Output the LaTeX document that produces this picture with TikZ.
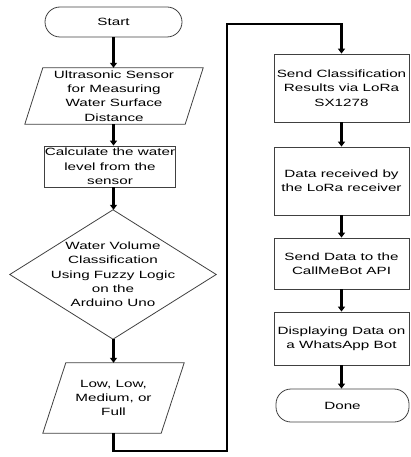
\documentclass[tikz,border=0pt]{standalone}
\usepackage{fontspec}
\setmainfont[FakeStretch=1.45]{Liberation Sans}
\usetikzlibrary{arrows.meta,calc}
\begin{document}
\begin{tikzpicture}[x=1pt,y=-1pt,
  txt/.style={font=\fontsize{10.5}{14.3}\selectfont, align=center, inner sep=0pt},
  shp/.style={draw=black!75, line width=0.8pt},
  boxnode/.style={txt, shp, rectangle, minimum width=#1},
  term/.style={txt, shp, rectangle, rounded corners=15pt},
  arr/.style={line width=2.2pt, -{Triangle[width=7pt,length=5pt]}}
]
\useasboundingbox (0,0) rectangle (410,457);
% left column
\node[term, minimum width=137pt, minimum height=30pt] (start) at (113.5,22) {Start};
\node[txt, minimum width=178pt, minimum height=56pt] (p1) at (114,96)
  {Ultrasonic Sensor\\for Measuring\\Water Surface\\Distance};
\draw[shp] ($(p1.north west)+(18,0)$) -- (p1.north east) -- ($(p1.south east)+(-18,0)$) -- (p1.south west) -- cycle;
\node[boxnode=130pt, minimum height=41pt] (calc) at (110,166.5)
  {Calculate the water\\level from the\\sensor};
\node[txt, minimum width=206pt, minimum height=129pt] (cls) at (113,274.5)
  {Water Volume\\Classification\\Using Fuzzy Logic\\on the\\Arduino Uno};
\draw[shp] (cls.north) -- (cls.east) -- (cls.south) -- (cls.west) -- cycle;
\node[txt, minimum width=141pt, minimum height=70pt] (p2) at (113.5,398)
  {Low, Low,\\Medium, or\\Full};
\draw[shp] ($(p2.north west)+(23,0)$) -- (p2.north east) -- ($(p2.south east)+(-23,0)$) -- (p2.south west) -- cycle;
% right column
\node[boxnode=135pt, minimum height=68pt] (b1) at (341.5,88)
  {Send Classification\\Results via LoRa\\SX1278};
\node[boxnode=135pt, minimum height=68pt] (b2) at (341.5,181)
  {Data received by\\the LoRa receiver};
\node[boxnode=135pt, minimum height=51pt] (b3) at (341.5,263.5)
  {Send Data to the\\CallMeBot API};
\node[boxnode=135pt, minimum height=53pt] (b4) at (341.5,338.5)
  {Displaying Data on\\a WhatsApp Bot};
\node[term, minimum width=133pt, minimum height=33pt] (done) at (342.5,405.5) {Done};
% connectors
\coordinate (c1) at (227,451);
\coordinate (c2) at (227,24);
\draw[arr] (start.south) -- (start.south |- p1.north);
\draw[arr] (p1.south -| start) -- (calc.north -| start);
\draw[arr] (calc.south -| start) -- (cls.north -| start);
\draw[arr] (cls.south -| start) -- (p2.north -| start);
\draw[arr] (p2.south -| start) |- (c1) -- (c2) -| (b1.north);
\draw[arr] (b1.south) -- (b2.north);
\draw[arr] (b2.south) -- (b3.north);
\draw[arr] (b3.south) -- (b4.north);
\draw[arr] (b4.south) -- (b4.south |- done.north);
\end{tikzpicture}
\end{document}
